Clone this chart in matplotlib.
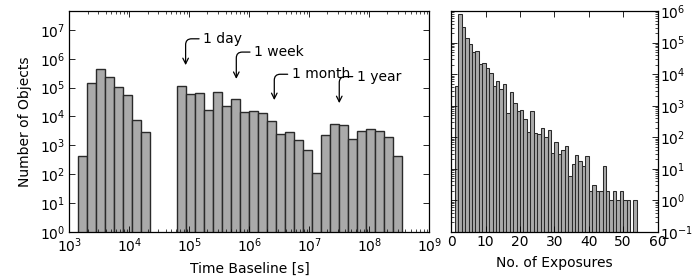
import numpy as np
import matplotlib
matplotlib.use("Agg")
import matplotlib.pyplot as plt

# --- left panel: time baseline histogram (log bins, 0.15 dex wide) ---
log_edge_start = 3.15
log_bin_width = 0.15
baseline_counts = [440, 1.5e5, 4.5e5, 2.3e5, 1.05e5, 5.6e4, 7.6e3, 3.0e3,
                   0, 0, 0,
                   1.15e5, 6.0e4, 6.7e4, 1.7e4, 7.1e4, 2.4e4, 4.0e4, 1.48e4,
                   1.56e4, 1.3e4, 7.0e3, 2.4e3, 3.0e3, 1.55e3, 680, 114,
                   2.2e3, 5.4e3, 5.0e3, 1.67e3, 3.2e3, 3.6e3, 3.2e3, 1.9e3, 440]

# annotations: label, time in seconds, arrow tip height, text position
marks = ["1 day", "1 week", "1 month", "1 year"]
mark_seconds = [86400, 604800, 2.6e6, 3.15e7]
tip_heights = [6.0e5, 2.0e5, 3.7e4, 2.9e4]
text_x = [1.7e5, 1.2e6, 5.1e6, 6.2e7]
text_y = [4.9e6, 1.7e6, 2.9e5, 2.4e5]

# --- right panel: number of exposures (unit bins starting at 1) ---
n_exposures = list(range(1, 54))
exposure_counts = [4200, 7.8e5, 3.2e5, 1.4e5, 9.0e4, 5.1e4, 5.4e4, 2.05e4,
                   2.3e4, 1.6e4, 1.1e4, 4200, 6100, 3400, 4900, 600, 2650,
                   1200, 680, 730, 370, 143, 680, 133, 124, 200, 105, 170,
                   31, 69, 29, 40, 54, 6, 14, 27, 18, 12, 26, 2, 3, 2, 2,
                   12, 2, 1, 2, 1, 2, 1, 1, 0, 1]

face = "#aaaaaa"
edge = "#2a2a2a"
fs = 10

fig = plt.figure(figsize=(6.92, 2.77), dpi=100)
ax1 = fig.add_axes([0.1004, 0.1625, 0.5200, 0.7978])
ax2 = fig.add_axes([0.6522, 0.1625, 0.2980, 0.7978])

# left histogram
lo = 10 ** (log_edge_start + log_bin_width * np.arange(len(baseline_counts)))
hi = lo * 10 ** log_bin_width
ax1.bar(lo, baseline_counts, width=hi - lo, align="edge",
        color=face, edgecolor=edge, linewidth=1.0)
ax1.set_xscale("log")
ax1.set_yscale("log")
ax1.set_xlim(1e3, 1e9)
ax1.set_ylim(1, 4.5e7)
ax1.set_xticks([10.0 ** k for k in range(3, 10)])
ax1.set_yticks([10.0 ** k for k in range(0, 8)])
ax1.set_xlabel("Time Baseline [s]", fontsize=fs, labelpad=5)
ax1.set_ylabel("Number of Objects", fontsize=fs, labelpad=6)

for lab, sec, tip, tx, ty in zip(marks, mark_seconds, tip_heights, text_x, text_y):
    ax1.annotate(lab, xy=(sec, tip), xytext=(tx, ty), fontsize=fs,
                 ha="left", va="center",
                 arrowprops=dict(arrowstyle="->", color="black", lw=0.9,
                                 shrinkA=1, shrinkB=0,
                                 connectionstyle="angle,angleA=0,angleB=90,rad=6"))

# right histogram
ax2.bar(n_exposures, exposure_counts, width=1.0, align="edge",
        color=face, edgecolor=edge, linewidth=0.75)
ax2.set_yscale("log")
ax2.set_xlim(0, 60)
ax2.set_ylim(0.1, 1e6)
ax2.set_xticks(range(0, 61, 10))
ax2.set_yticks([10.0 ** k for k in range(-1, 7)])
ax2.set_xlabel("No. of Exposures", fontsize=fs, labelpad=5)

for ax in (ax1, ax2):
    ax.tick_params(which="both", direction="in", top=True, right=True,
                   labelsize=fs, pad=3)
    ax.tick_params(which="major", length=4, width=0.6)
    ax.tick_params(which="minor", length=2, width=0.5)
    for sp in ax.spines.values():
        sp.set_linewidth(0.9)
ax2.tick_params(which="both", labelleft=False, labelright=True, pad=2)

fig.savefig("out.png", dpi=100)
